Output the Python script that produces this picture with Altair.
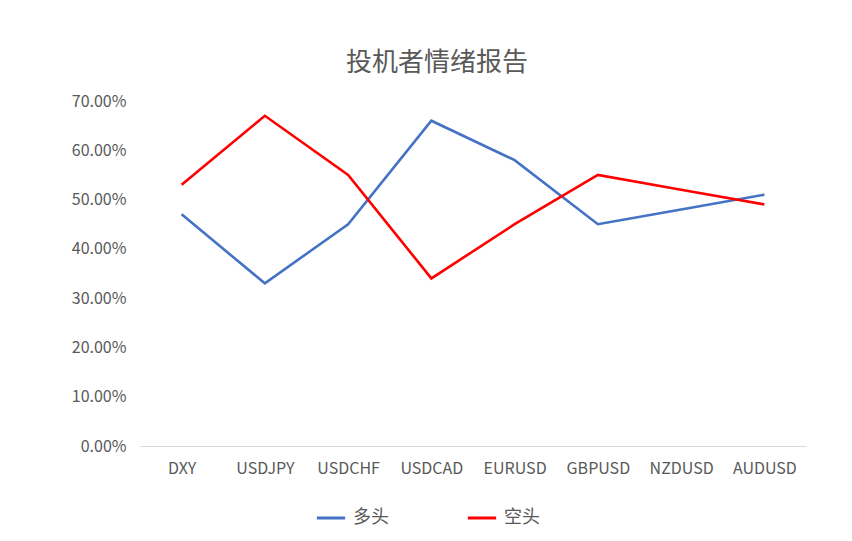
import altair as alt
import pandas as pd

pairs = ["DXY", "USDJPY", "USDCHF", "USDCAD", "EURUSD", "GBPUSD", "NZDUSD", "AUDUSD"]
long_pct = [0.47, 0.33, 0.45, 0.66, 0.58, 0.45, 0.48, 0.51]
short_pct = [0.53, 0.67, 0.55, 0.34, 0.45, 0.55, 0.52, 0.49]
series_names = ["多头", "空头"]
series_colors = ["#4472C4", "#FF0000"]

rows = []
for i, p in enumerate(pairs):
    rows.append({"pair": p, "series": series_names[0], "value": long_pct[i], "order": i})
    rows.append({"pair": p, "series": series_names[1], "value": short_pct[i], "order": i})
df = pd.DataFrame(rows)

FONT = "Noto Sans CJK SC"
GREY = "#595959"

chart = alt.Chart(df).mark_line(strokeWidth=2.6).encode(
    x=alt.X("pair:N", sort=pairs, title=None,
            scale=alt.Scale(type="point", padding=0.5),
            axis=alt.Axis(labelAngle=0, labelFontSize=16, labelColor=GREY, labelFont=FONT,
                          labelPadding=14, ticks=False, domainColor="#D9D9D9", domainWidth=1)),
    y=alt.Y("value:Q", title=None,
            scale=alt.Scale(domain=[0, 0.7]),
            axis=alt.Axis(format=".2%", values=[0, 0.1, 0.2, 0.3, 0.4, 0.5, 0.6, 0.7],
                          labelFontSize=16, labelColor=GREY, labelFont=FONT, labelPadding=14,
                          grid=False, ticks=False, domain=False)),
    color=alt.Color("series:N", title=None,
                    scale=alt.Scale(domain=series_names, range=series_colors),
                    legend=alt.Legend(orient="none", legendX=175, legendY=401, direction="horizontal",
                                      symbolType="stroke", symbolStrokeWidth=3, symbolSize=800,
                                      labelFontSize=18, labelColor=GREY, labelFont=FONT,
                                      columnPadding=72, labelOffset=6)),
    order="order:Q",
).properties(
    width=666,
    height=345,
    title=alt.TitleParams("投机者情绪报告", fontSize=26, font=FONT, color=GREY, fontWeight="normal",
                          anchor="middle", dx=-36, offset=17),
    autosize=alt.AutoSizeParams(type="none"),
    padding={"left": 132, "top": 93, "right": 30, "bottom": 86},
).configure_view(stroke=None)

chart.save("out.html", embed_options={"renderer": "svg", "actions": False})
